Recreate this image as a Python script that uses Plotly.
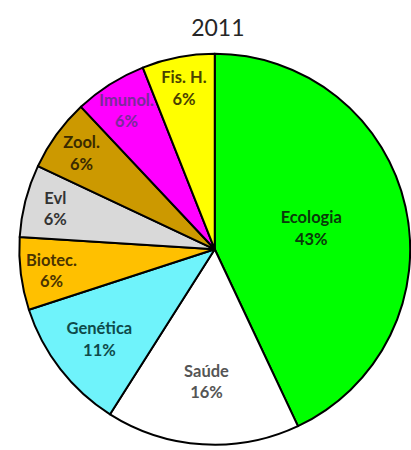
import plotly.graph_objects as go

# Share of publications by area, 2011
areas = ["Ecologia", "Saúde", "Genética", "Biotec.", "Evl", "Zool.", "Imunol.", "Fis. H."]
shares = [43, 16, 11, 6, 6, 6, 6, 6]
slice_colors = ["#00FF00", "#FFFFFF", "#6FF3FB", "#FFC000", "#D9D9D9", "#CC9900", "#FF00FF", "#FFFF00"]
label_colors = ["#0A3A0A", "#555555", "#0E4A4A", "#4A3300", "#333333", "#3A2A00", "#7A2A9A", "#4A4200"]

fig = go.Figure(
    go.Pie(
        labels=areas,
        values=shares,
        sort=False,
        direction="clockwise",
        rotation=0,
        marker=dict(colors=slice_colors, line=dict(color="#000000", width=2)),
        texttemplate="<b>%{label}</b><br><b>%{value}%</b>",
        textposition="inside",
        insidetextorientation="horizontal",
        textfont=dict(family="Lato, 'Open Sans', sans-serif", size=17, color=label_colors),
        hoverinfo="label+value",
        domain=dict(x=[0.047, 0.998], y=[0.008, 0.884]),
    )
)

fig.update_layout(
    width=411,
    height=450,
    margin=dict(l=0, r=0, t=0, b=0),
    paper_bgcolor="white",
    showlegend=False,
    uniformtext=dict(minsize=16, mode="show"),
    title=dict(
        text="2011",
        x=0.53,
        xanchor="center",
        y=0.937,
        yanchor="middle",
        font=dict(family="Lato, 'Open Sans', sans-serif", size=23, color="#262626"),
    ),
)

fig.write_html("out.html")
